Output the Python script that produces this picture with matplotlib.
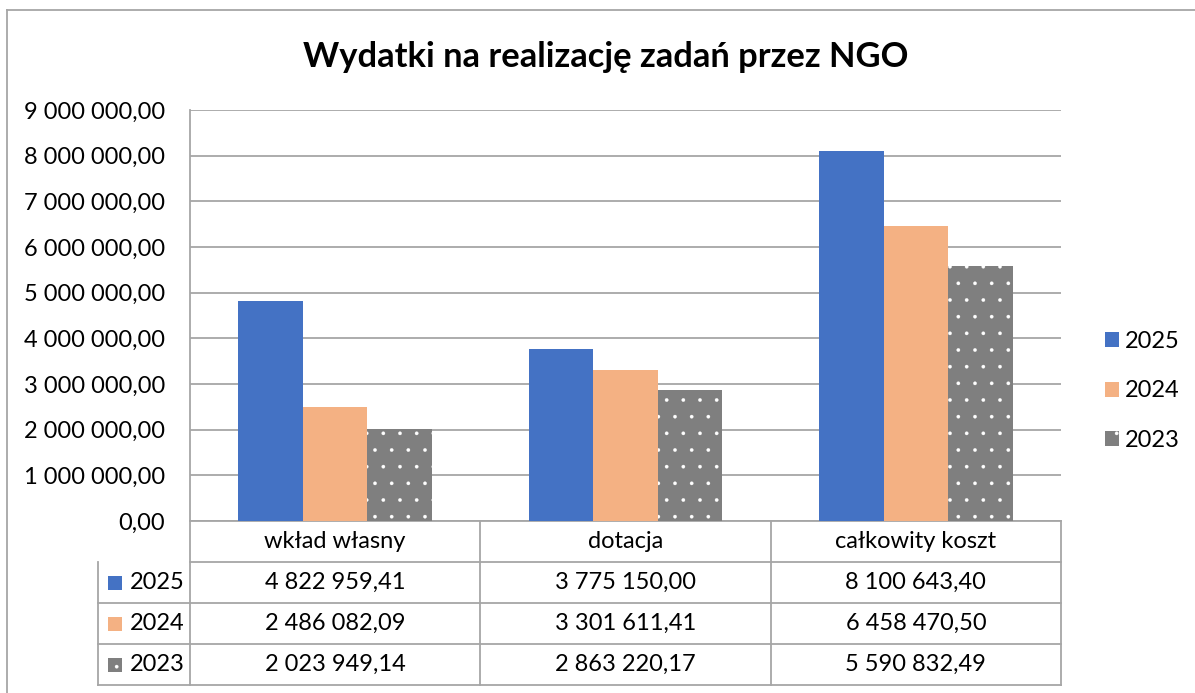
import matplotlib
matplotlib.use("Agg")
import matplotlib.pyplot as plt
from matplotlib.patches import Patch, Rectangle
from matplotlib.lines import Line2D

# data
categories = ["wkład własny", "dotacja", "całkowity koszt"]
years = ["2025", "2024", "2023"]
values_2025 = [4822959.41, 3775150.00, 8100643.40]
values_2024 = [2486082.09, 3301611.41, 6458470.50]
values_2023 = [2023949.14, 2863220.17, 5590832.49]
y_ticks = [0, 1e6, 2e6, 3e6, 4e6, 5e6, 6e6, 7e6, 8e6, 9e6]

plt.rcParams["font.family"] = ["Lato", "DejaVu Sans"]
plt.rcParams["hatch.linewidth"] = 0.2

BLUE = "#4472C4"
ORANGE = "#F4B183"
GRAY = "#7F7F7F"
LINE = "#A6A6A6"
FS = 17


def pl_fmt(v):
    s = "{:,.2f}".format(v)
    return s.replace(",", " ").replace(".", ",")


W, H = 1195, 693
fig = plt.figure(figsize=(W / 100, H / 100), dpi=100)
ax = fig.add_axes([190 / W, 1 - 521 / H, 871 / W, 411 / H])

series = [values_2025, values_2024, values_2023]
styles = [dict(color=BLUE), dict(color=ORANGE),
          dict(color=GRAY, edgecolor="white", linewidth=0, hatch=".")]
bw = 0.222
for i, (vals, st) in enumerate(zip(series, styles)):
    xs = [c + (i - 1) * bw for c in range(len(categories))]
    ax.bar(xs, vals, width=bw, zorder=3, **st)

ax.set_xlim(-0.5, 2.5)
ax.set_ylim(0, 9e6)
ax.set_yticks(y_ticks)
ax.set_yticklabels([pl_fmt(t) for t in y_ticks], fontsize=FS)
ax.set_xticks([])
ax.tick_params(axis="y", length=0, pad=18)
ax.grid(axis="y", color=LINE, linewidth=1.3, zorder=0)
for s in ["top", "right"]:
    ax.spines[s].set_visible(False)
ax.spines["left"].set_color(LINE)
ax.spines["bottom"].set_color(LINE)
ax.spines["left"].set_linewidth(1.3)
ax.spines["bottom"].set_linewidth(1.3)

fig.text(606 / W, 1 - 57 / H, "Wydatki na realizację zadań przez NGO",
         fontsize=24.8, fontweight="bold", ha="center", va="center")

# data table under the axes
tr = ax.transAxes
rh = 41 / 411
lx = -92 / 871
kw = dict(color=LINE, linewidth=1.3, transform=tr, clip_on=False)
for k in range(1, 5):
    x0 = 0 if k == 1 else lx
    ax.add_line(Line2D([x0, 1], [-k * rh, -k * rh], **kw))
for j in range(4):
    ax.add_line(Line2D([j / 3, j / 3], [0, -4 * rh], **kw))
ax.add_line(Line2D([lx, lx], [-rh, -4 * rh], **kw))

for j, cat in enumerate(categories):
    ax.text((j + 0.5) / 3, -0.5 * rh, cat, transform=tr, ha="center",
            va="center", fontsize=FS)
for r, (yr, vals, st) in enumerate(zip(years, series, styles)):
    yc = -(r + 1.5) * rh
    sw = 14 / 871
    sh = 14 / 411
    ax.add_patch(Rectangle((-82 / 871, yc - sh / 2), sw, sh, transform=tr,
                           clip_on=False, facecolor=st["color"],
                           edgecolor=st.get("edgecolor", "none"), linewidth=0,
                           hatch=st.get("hatch")))
    ax.text(-60 / 871, yc, yr, transform=tr, ha="left", va="center",
            fontsize=FS)
    for j, v in enumerate(vals):
        ax.text((j + 0.5) / 3, yc, pl_fmt(v), transform=tr, ha="center",
                va="center", fontsize=FS)

handles = [Patch(facecolor=BLUE), Patch(facecolor=ORANGE),
           Patch(facecolor=GRAY, edgecolor="white", linewidth=0, hatch=".")]
fig.legend(handles, years, loc="center left",
           bbox_to_anchor=(1088 / W, 1 - 391 / H), frameon=False,
           fontsize=FS, handlelength=0.6, handleheight=0.6,
           handletextpad=0.25, labelspacing=1.2, borderpad=0.2)

# outer chart frame
fig.add_artist(Line2D([7 / W, 7 / W], [0, 1 - 10 / H], color=LINE,
                      linewidth=1.3, transform=fig.transFigure))
fig.add_artist(Line2D([7 / W, 1], [1 - 10 / H, 1 - 10 / H], color=LINE,
                      linewidth=1.3, transform=fig.transFigure))

fig.savefig("out.png", dpi=100)
